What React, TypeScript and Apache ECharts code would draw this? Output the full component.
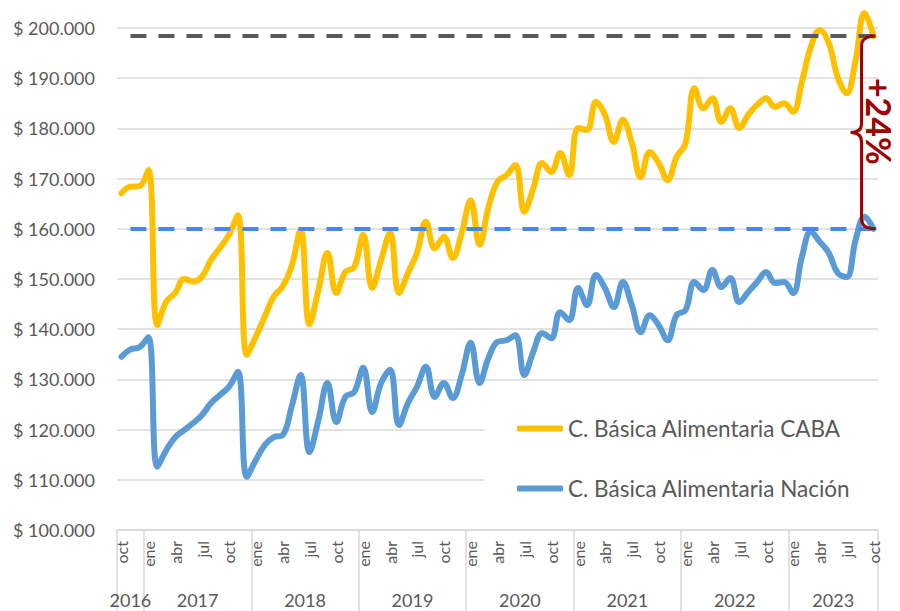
import React, { useEffect, useRef } from 'react';
import * as echarts from 'echarts';

const monthNames = ['ene', 'feb', 'mar', 'abr', 'may', 'jun', 'jul', 'ago', 'sep', 'oct', 'nov', 'dic'];
const years = ['2016', '2017', '2018', '2019', '2020', '2021', '2022', '2023'];
const monthsPerYear = [3, 12, 12, 12, 12, 12, 12, 10];
const firstMonth = 9; // oct 2016

const seriesNames = ['C. Básica Alimentaria CABA', 'C. Básica Alimentaria Nación'];

// values in thousands of pesos
const caba = [
  167.1, 168.4, 168.5, 171.7, 140.8, 145.5, 147.2, 150.0, 149.5, 150.5,
  153.8, 156.2, 158.8, 162.7, 134.9, 138.5, 142.5, 146.5, 148.5, 152.5,
  159.8, 141.0, 147.8, 155.2, 147.2, 151.4, 152.4, 158.8, 148.2, 153.8,
  159.2, 147.2, 151.2, 155.2, 161.4, 156.1, 158.4, 154.2, 159.2, 165.7,
  156.8, 164.4, 169.4, 170.7, 172.7, 163.4, 168.1, 173.1, 171.3, 175.1,
  170.7, 180.1, 179.7, 185.3, 182.7, 177.3, 181.7, 177.1, 170.3, 175.3,
  173.1, 169.7, 174.3, 177.0, 188.0, 184.0, 186.0, 181.3, 184.0, 180.1,
  182.7, 184.7, 186.0, 184.3, 185.0, 183.3, 189.3, 196.3, 199.6, 197.0,
  190.2, 187.0, 193.6, 203.0, 198.4,
];

const nacion = [
  134.5, 136.0, 136.4, 138.4, 112.6, 115.9, 118.5, 119.9, 121.3, 122.9,
  125.3, 126.9, 128.5, 131.5, 110.6, 113.9, 116.9, 118.5, 118.9, 124.5,
  130.9, 115.5, 121.9, 129.3, 121.5, 126.5, 127.5, 132.3, 123.5, 129.3,
  131.9, 120.9, 125.3, 128.5, 132.5, 126.5, 129.3, 126.3, 130.9, 137.3,
  129.3, 134.3, 137.5, 137.8, 138.8, 130.9, 135.5, 139.2, 138.2, 143.4,
  141.8, 148.2, 144.8, 150.8, 148.2, 144.4, 149.4, 144.8, 139.4, 142.8,
  140.8, 137.8, 142.8, 143.8, 149.4, 147.8, 151.8, 148.4, 150.2, 145.4,
  147.4, 149.4, 151.4, 149.2, 149.4, 147.2, 154.4, 159.4, 157.4, 155.2,
  151.2, 150.4, 157.8, 162.4, 160.0,
];

const yMin = 100;
const yMax = 200;
const yStep = 10;
const increaseLabel = '+24%';

const categories: string[] = [];
years.forEach((y, yi) => {
  const start = yi === 0 ? firstMonth : 0;
  for (let m = 0; m < monthsPerYear[yi]; m++) categories.push(monthNames[start + m] + ' ' + y);
});

const boundaries: number[] = [0];
monthsPerYear.forEach((n) => boundaries.push(boundaries[boundaries.length - 1] + n));
const centers = years.map((_, i) => (boundaries[i] + boundaries[i + 1]) / 2);

const fmtMoney = (v: number) =>
  '$ ' + String(Math.round(v * 1000)).replace(/\B(?=(\d{3})+(?!\d))/g, '.');

const FONT = 'Lato, "Noto Sans", sans-serif';
const GRAY = '#595959';
const GRID = '#d9d9d9';
const RED = '#a00000';

export default function App() {
  const ref = useRef<HTMLDivElement>(null);
  useEffect(() => {
    if (!ref.current) return;
    const chart = echarts.init(ref.current, undefined, { renderer: 'svg' });
    const last = caba.length - 1;
    chart.setOption({
      animation: false,
      backgroundColor: '#fff',
      textStyle: { fontFamily: FONT },
      grid: { left: 117, right: 22, top: 28, bottom: 81, containLabel: false },
      legend: {
        data: seriesNames,
        orient: 'vertical',
        left: 485,
        top: 397,
        backgroundColor: '#fff',
        padding: [20, 40, 20, 32],
        itemWidth: 46,
        itemHeight: 6,
        itemGap: 37,
        icon: 'roundRect',
        selectedMode: false,
        textStyle: { fontSize: 22.5, color: GRAY, fontFamily: FONT },
      },
      xAxis: [
        {
          type: 'category',
          data: categories,
          boundaryGap: true,
          axisLine: { show: true, lineStyle: { color: GRID, width: 1.5 } },
          axisTick: { show: false },
          axisLabel: {
            interval: 2,
            rotate: 90,
            margin: 11,
            fontSize: 16,
            color: GRAY,
            fontFamily: FONT,
            formatter: (v: string) => v.split(' ')[0],
          },
          splitLine: { show: false },
        },
        {
          type: 'value',
          position: 'bottom',
          min: 0,
          max: categories.length,
          axisLine: { show: false },
          axisTick: {
            show: true,
            customValues: boundaries,
            length: 81,
            lineStyle: { color: GRID, width: 1.5 },
          },
          axisLabel: {
            show: true,
            customValues: centers,
            margin: 61,
            fontSize: 18,
            color: GRAY,
            fontFamily: FONT,
            formatter: (v: number) => {
              const i = centers.findIndex((c) => Math.abs(c - v) < 1e-6);
              return i >= 0 ? years[i] : '';
            },
          },
          splitLine: { show: false },
        },
      ],
      yAxis: {
        type: 'value',
        min: yMin,
        max: yMax,
        interval: yStep,
        axisLine: { show: false },
        axisTick: { show: false },
        splitLine: { show: true, lineStyle: { color: GRID, width: 1.5 } },
        axisLabel: { margin: 22, fontSize: 18, color: GRAY, fontFamily: FONT, formatter: fmtMoney },
      },
      series: [
        {
          name: seriesNames[0],
          type: 'line',
          data: caba,
          smooth: 0.4,
          symbol: 'none',
          clip: false,
          z: 3,
          color: '#ffc000',
          lineStyle: { width: 6, color: '#ffc000', cap: 'round', join: 'round' },
          markLine: {
            silent: true,
            symbol: 'none',
            label: { show: false },
            lineStyle: { color: '#595959', width: 4, type: [16, 12] },
            data: [[{ coord: [1, caba[last]] }, { coord: [last, caba[last]] }]],
          },
        },
        {
          name: seriesNames[1],
          type: 'line',
          data: nacion,
          smooth: 0.4,
          symbol: 'none',
          clip: false,
          z: 3,
          color: '#5b9bd5',
          lineStyle: { width: 6, color: '#5b9bd5', cap: 'round', join: 'round' },
          markLine: {
            silent: true,
            symbol: 'none',
            label: { show: false },
            lineStyle: { color: '#4a86e8', width: 4, type: [16, 12] },
            data: [[{ coord: [1, nacion[last]] }, { coord: [last, nacion[last]] }]],
          },
        },
        {
          name: 'brace',
          type: 'custom',
          coordinateSystem: 'cartesian2d',
          clip: false,
          silent: true,
          z: 5,
          data: [[last, nacion[last], caba[last]]],
          renderItem: (params: any, api: any) => {
            const top = api.coord([api.value(0), api.value(2)]);
            const bot = api.coord([api.value(0), api.value(1)]);
            const xr = top[0] + 2;
            const xs = xr - 14;
            const xt = xr - 25;
            const yt = top[1];
            const yb = bot[1];
            const ym = (yt + yb) / 2;
            const d =
              `M${xr},${yt} Q${xs},${yt} ${xs},${yt + 10} L${xs},${ym - 9} ` +
              `Q${xs},${ym} ${xt},${ym} Q${xs},${ym} ${xs},${ym + 9} ` +
              `L${xs},${yb - 10} Q${xs},${yb} ${xr},${yb}`;
            return {
              type: 'group',
              children: [
                {
                  type: 'path',
                  shape: { pathData: d },
                  style: { stroke: RED, lineWidth: 3, fill: null },
                },
                {
                  type: 'text',
                  x: xr + 4,
                  y: ym - 11,
                  rotation: -Math.PI / 2,
                  style: {
                    text: increaseLabel,
                    fill: RED,
                    font: `bold 34px ${FONT}`,
                    lineHeight: 26,
                    align: 'center',
                    verticalAlign: 'middle',
                  },
                },
              ],
            };
          },
        },
      ],
    });
    return () => chart.dispose();
  }, []);
  return <div ref={ref} style={{ position: 'absolute', left: 0, top: 0, width: 900, height: 611 }} />;
}
